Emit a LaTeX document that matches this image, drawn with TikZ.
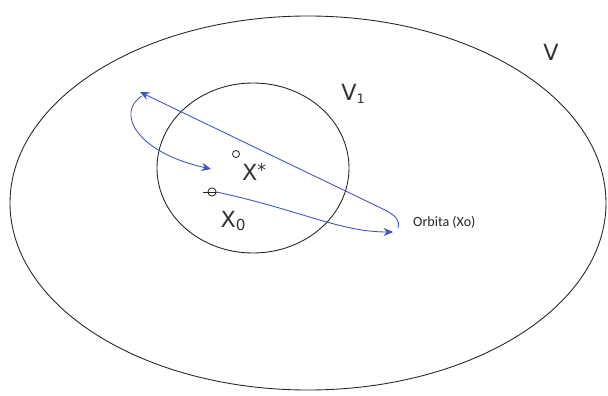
\documentclass[tikz,border=0pt]{standalone}
\usepackage{fontspec}
\setmainfont{Carlito}
\newfontfamily\lblfont{DejaVu Sans}
\usetikzlibrary{arrows.meta,shapes.geometric}
\definecolor{orb}{RGB}{62,84,200}
\begin{document}
\begin{tikzpicture}[x=0.03cm,y=-0.03cm,
  region/.style={draw=black!85,line width=0.75pt,ellipse,inner sep=0pt},
  orbline/.style={draw=orb,line width=0.75pt,-{Stealth[length=8pt,width=7pt]}},
  lbl/.style={font=\lblfont\fontsize{19}{22}\selectfont,text=black!80,inner sep=0pt},
  small/.style={font=\fontsize{12}{14}\selectfont,text=black!85,inner sep=0pt}]
\useasboundingbox (0,0) rectangle (608,396);
\node[region,minimum width=596*0.03cm,minimum height=374*0.03cm] (V) at (308,203) {};
\node[region,minimum width=192*0.03cm,minimum height=170*0.03cm] (V1) at (253,168) {};
\node[lbl] (vl) at (551,52) {V};
\node[lbl] (v1l) at (353,94) {V\raisebox{-3pt}{\fontsize{11}{13}\selectfont 1}};
\node[draw=black!85,circle,line width=0.7pt,inner sep=0pt,minimum size=6pt] (xs) at (236,154) {};
\node[lbl,anchor=west] (xsl) at (242,172) {X\raisebox{4pt}{\fontsize{15}{17}\selectfont *}};
\node[draw=black!85,circle,line width=0.7pt,inner sep=0pt,minimum size=7pt] (x0) at (212,192) {};
\coordinate (x0t) at (203,192);
\draw[black!85,line width=0.7pt] (x0t) -- (x0.east);
\node[lbl] (x0l) at (233,221) {X\raisebox{-3pt}{\fontsize{13}{15}\selectfont 0}};
\node[small,anchor=west] (orbl) at (413,222) {Orbita (Xo)};
\coordinate (a1) at (393,232);
\coordinate (b0) at (398,228);
\coordinate (b1) at (140,92);
\coordinate (c0) at (142,96);
\coordinate (c2) at (211,169);
\draw[orbline] (x0.east) .. controls (300,210) and (340,232) .. (a1);
\draw[orbline] (b0) .. controls (400,220) and (396,216) .. (385,210) -- (b1);
\draw[orbline] (c0) .. controls (116,112) and (135,152) .. (c2);
\end{tikzpicture}
\end{document}
